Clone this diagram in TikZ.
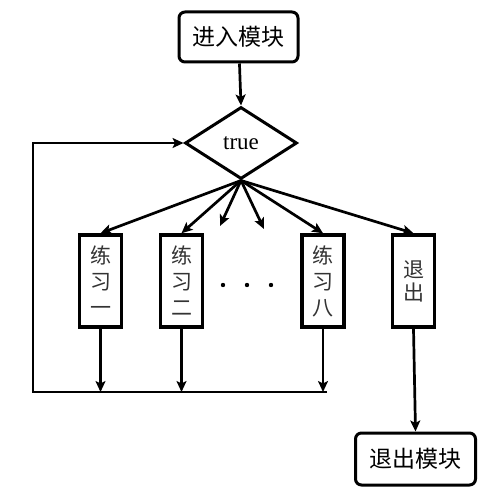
\documentclass[tikz,border=0pt]{standalone}
\usepackage{fontspec}
\setmainfont{Liberation Serif}
\newfontfamily\cjk{Noto Sans CJK SC}
\usetikzlibrary{shapes.geometric,arrows.meta}
\begin{document}
\begin{tikzpicture}[x=1pt,y=-1pt,
  line width=2.7pt,
  arr/.style={-{Stealth[length=11pt,width=10pt,inset=2.5pt]}},
  term/.style={draw,line width=3pt,rounded corners=6pt,minimum width=119pt,minimum height=50pt,inner sep=0pt,font=\cjk\fontsize{23}{26}\selectfont},
  cond/.style={draw,diamond,line width=3pt,minimum width=112pt,minimum height=72pt,inner sep=0pt,font=\fontsize{23}{26}\selectfont},
  tall/.style={draw,line width=3.5pt,minimum width=42pt,minimum height=92pt,inner sep=0pt,align=center,text=black!80,font=\cjk\fontsize{21}{26}\selectfont}]
\useasboundingbox (0,0) rectangle (500,500);
\fill[white] (0,0) rectangle (500,500);
\node[term] (enter) at (238.5,37) {进入模块};
\node[cond] (dia) at (241,143) {true};
\node[tall] (b1) at (100.5,281) {练\\习\\一};
\node[tall] (b2) at (181.5,281) {练\\习\\二};
\node[tall] (b8) at (323,281) {练\\习\\八};
\node[tall,font=\cjk\fontsize{21}{23}\selectfont] (bx) at (413.5,281) {退\\出};
\node[term,minimum width=120pt,minimum height=52pt] (exit) at (415.5,459) {退出模块};
\coordinate (s1) at (220,226);
\coordinate (s2) at (264,229);
\coordinate (botL) at (33,392);
\coordinate (botR) at (327,392);
\fill (223,285) circle (2.2pt) (247,285) circle (2.2pt) (271,285) circle (2.2pt);
\draw[arr] (enter) -- (dia.north);
\draw[arr] (dia.south) -- (b1.north);
\draw[arr] (dia.south) -- (b2.north);
\draw[arr] (dia.south) -- (s1);
\draw[arr] (dia.south) -- (s2);
\draw[arr] (dia.south) -- (b8.north);
\draw[arr] (dia.south) -- (bx.north);
\draw[arr] (botR) -- (botL) |- (dia.west);
\draw[arr] (b1.south) -- (b1.south |- botL);
\draw[arr] (b2.south) -- (b2.south |- botL);
\draw[arr] (b8.south) -- (b8.south |- botL);
\draw[arr] (bx.south) -- (exit.north);
\end{tikzpicture}
\end{document}
